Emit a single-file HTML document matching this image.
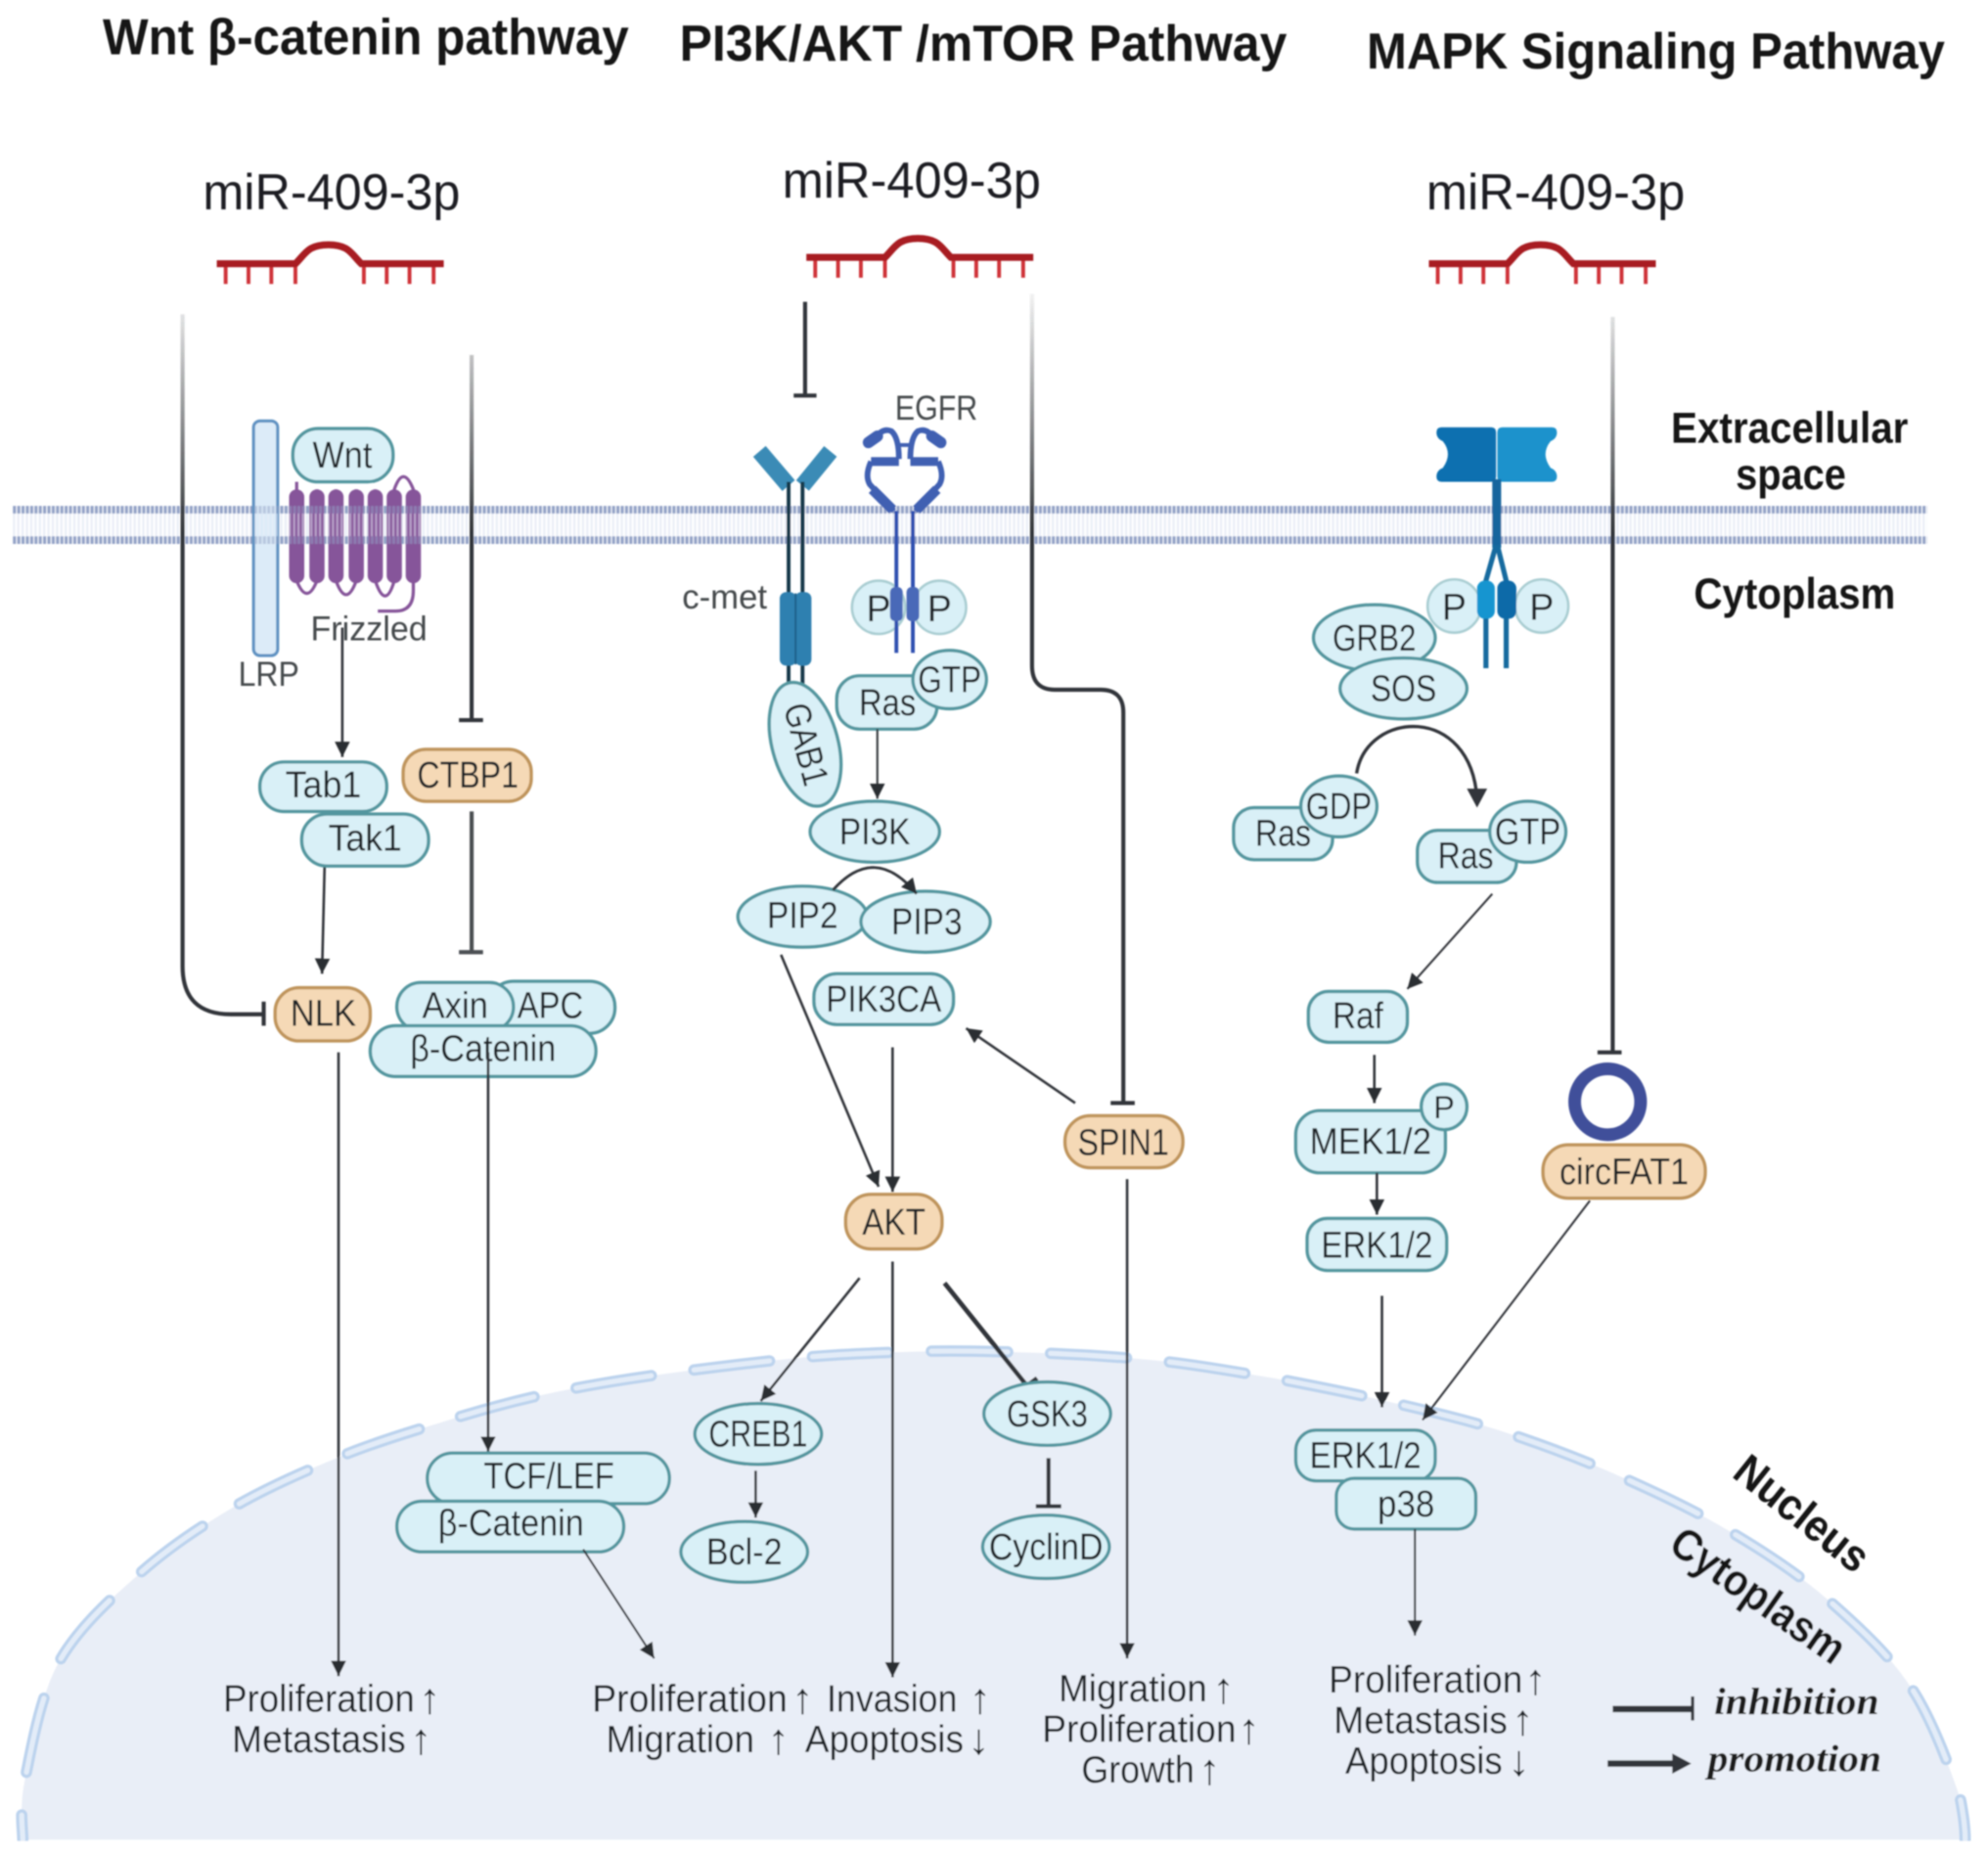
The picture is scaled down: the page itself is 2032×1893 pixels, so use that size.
<!DOCTYPE html>
<html><head><meta charset="utf-8"><style>
html,body{margin:0;padding:0;background:#fff}
svg{display:block}
text{font-family:"Liberation Sans",sans-serif;fill:#1f2428;font-size:29px}
.c{text-anchor:middle}
.b{font-weight:bold;fill:#141414}
.g{fill:#44484c;font-size:27px}
.w{font-size:30px}
.ar{font-size:34px;text-anchor:middle;font-weight:bold}
.p{fill:#d9f0f7;stroke:#52969f;stroke-width:2.6}
.o{fill:#f5d9b6;stroke:#bf945c;stroke-width:2.6}
.l{fill:none;stroke:#33363a;stroke-width:2}
.t{fill:none;stroke:#33363a;stroke-width:3.2}
.r{fill:none;stroke:#a81c20;stroke-width:5.5}
.rt{fill:none;stroke:#cf3339;stroke-width:3}
.f{fill:#86559a}
</style></head><body>
<svg width="2032" height="1893" viewBox="0 0 1568 1460.7" xmlns="http://www.w3.org/2000/svg">
<defs>
<filter id="bl" x="-2%" y="-2%" width="104%" height="104%"><feGaussianBlur stdDeviation="0.7"/></filter>
<marker id="a" markerUnits="userSpaceOnUse" markerWidth="14" markerHeight="14" refX="12" refY="6" orient="auto"><path d="M0,0L12,6L0,12Z" fill="#2c2f33"/></marker>
<pattern id="mem" width="3.4" height="30" patternUnits="userSpaceOnUse" y="399">
<rect x="0" y="5" width="1.7" height="19" fill="#eaeef7"/>
<rect x="0" y="0" width="2.4" height="6" fill="#93a2c6"/>
<rect x="0" y="24" width="2.4" height="6" fill="#93a2c6"/>
</pattern>
<linearGradient id="fade1" gradientUnits="userSpaceOnUse" x1="0" y1="235" x2="0" y2="420"><stop offset="0" stop-color="#33363a" stop-opacity="0.08"/><stop offset="1" stop-color="#33363a"/></linearGradient>
</defs>
<rect width="1568" height="1461" fill="#fff"/>
<g filter="url(#bl)">

<!-- nucleus -->
<path id="nuc" d="M18,1451 C18,1443 15,1425 20,1402 C25,1378 32,1336 47,1310 C62,1284 85,1263 108,1243 C130,1223 155,1206 182,1190 C209,1174 239,1161 268,1149 C297,1137 325,1129 354,1120 C383,1111 413,1103 443,1097 C473,1091 505,1086 536,1082 C567,1078 599,1074 630,1071 C661,1068 692,1067 723,1066 C754,1065 786,1066 817,1067 C848,1068 880,1070 911,1073 C942,1076 974,1082 1005,1087 C1036,1093 1067,1099 1097,1106 C1127,1113 1158,1120 1188,1130 C1218,1140 1250,1152 1279,1165 C1308,1178 1336,1191 1363,1207 C1390,1223 1418,1241 1442,1262 C1466,1283 1491,1306 1508,1332 C1525,1358 1539,1398 1546,1418 C1548,1428 1550,1440 1550,1451 Z" fill="#e9eef7"/>
<path d="M18,1451 C18,1443 15,1425 20,1402 C25,1378 32,1336 47,1310 C62,1284 85,1263 108,1243 C130,1223 155,1206 182,1190 C209,1174 239,1161 268,1149 C297,1137 325,1129 354,1120 C383,1111 413,1103 443,1097 C473,1091 505,1086 536,1082 C567,1078 599,1074 630,1071 C661,1068 692,1067 723,1066 C754,1065 786,1066 817,1067 C848,1068 880,1070 911,1073 C942,1076 974,1082 1005,1087 C1036,1093 1067,1099 1097,1106 C1127,1113 1158,1120 1188,1130 C1218,1140 1250,1152 1279,1165 C1308,1178 1336,1191 1363,1207 C1390,1223 1418,1241 1442,1262 C1466,1283 1491,1306 1508,1332 C1525,1358 1539,1398 1546,1418 C1548,1428 1550,1440 1550,1451" fill="none" stroke="#bcd3ee" stroke-width="9" stroke-linecap="round" stroke-dasharray="60 34" stroke-dashoffset="40.5"/>
<path d="M18,1451 C18,1443 15,1425 20,1402 C25,1378 32,1336 47,1310 C62,1284 85,1263 108,1243 C130,1223 155,1206 182,1190 C209,1174 239,1161 268,1149 C297,1137 325,1129 354,1120 C383,1111 413,1103 443,1097 C473,1091 505,1086 536,1082 C567,1078 599,1074 630,1071 C661,1068 692,1067 723,1066 C754,1065 786,1066 817,1067 C848,1068 880,1070 911,1073 C942,1076 974,1082 1005,1087 C1036,1093 1067,1099 1097,1106 C1127,1113 1158,1120 1188,1130 C1218,1140 1250,1152 1279,1165 C1308,1178 1336,1191 1363,1207 C1390,1223 1418,1241 1442,1262 C1466,1283 1491,1306 1508,1332 C1525,1358 1539,1398 1546,1418 C1548,1428 1550,1440 1550,1451" fill="none" stroke="#e3ecf8" stroke-width="4" stroke-linecap="round" stroke-dasharray="60 34" stroke-dashoffset="40.5"/>
<rect x="0" y="1452" width="1568" height="10" fill="#fff"/>

<!-- membrane -->
<rect x="10" y="399" width="1510" height="30" fill="url(#mem)"/>

<!-- titles -->
<text class="b" x="81" y="43" style="font-size:40px" textLength="415" lengthAdjust="spacingAndGlyphs">Wnt β-catenin pathway</text>
<text class="b" x="536" y="48" style="font-size:40px" textLength="479" lengthAdjust="spacingAndGlyphs">PI3K/AKT /mTOR Pathway</text>
<text class="b" x="1078" y="54" style="font-size:40px" textLength="456" lengthAdjust="spacingAndGlyphs">MAPK Signaling Pathway</text>

<text x="160" y="165" style="font-size:40px;fill:#1a1d20" textLength="203" lengthAdjust="spacingAndGlyphs">miR-409-3p</text>
<text x="617" y="156" style="font-size:40px;fill:#1a1d20" textLength="204" lengthAdjust="spacingAndGlyphs">miR-409-3p</text>
<text x="1125" y="165" style="font-size:40px;fill:#1a1d20" textLength="204" lengthAdjust="spacingAndGlyphs">miR-409-3p</text>

<!-- miRNAs -->
<g>
<path class="rt" d="M178,208V224M196,208V224M214,208V224M233,208V224M287,208V224M305,208V224M323,208V224M342,208V224"/>
<path class="r" d="M171,208H233C241,200 243,193 259,193C275,193 277,200 285,208H350"/>
</g>
<g transform="translate(465,-5)">
<path class="rt" d="M178,208V224M196,208V224M214,208V224M233,208V224M287,208V224M305,208V224M323,208V224M342,208V224"/>
<path class="r" d="M171,208H233C241,200 243,193 259,193C275,193 277,200 285,208H350"/>
</g>
<g transform="translate(956,0)">
<path class="rt" d="M178,208V224M196,208V224M214,208V224M233,208V224M287,208V224M305,208V224M323,208V224M342,208V224"/>
<path class="r" d="M171,208H233C241,200 243,193 259,193C275,193 277,200 285,208H350"/>
</g>

<!-- inhibition long lines -->
<path d="M144,248V762Q144,800 182,800H208" fill="none" stroke="url(#fade1)" stroke-width="3.2"/>
<path class="t" d="M208,790V809"/>
<path d="M372,280V568" fill="none" stroke="url(#fade1)" stroke-width="3.2"/>
<path class="t" d="M362,568H381"/>
<path class="t" d="M372,640V751M362,751H381" style="stroke:#4c4f53"/>
<path class="t" d="M635,238V312M626,312H644"/>
<path d="M814,232V525Q814,544 832,544H868Q886,544 886,562V870" fill="none" stroke="url(#fade1)" stroke-width="3.2"/>
<path class="t" d="M876,870H895"/>
<path d="M1272,250V830" fill="none" stroke="url(#fade1)" stroke-width="3.2"/>
<path class="t" d="M1260,830H1279"/>

<!-- LRP / Frizzled -->
<rect x="200" y="332" width="19" height="185" rx="5" fill="#dcebf8" stroke="#5e92c2" stroke-width="2.4"/>
<g>
<path d="M234,380V458Q242,478 250,458V386M265,386V458Q273,480 281,458V386M296,386V458Q304,482 311,458V386Q318,366 326,386V458V466Q326,482 312,482H298" fill="none" stroke="#86559a" stroke-width="2.5"/>
<rect class="f" x="228" y="386" width="12" height="74" rx="6"/>
<rect class="f" x="244" y="386" width="12" height="74" rx="6"/>
<rect class="f" x="259" y="386" width="12" height="74" rx="6"/>
<rect class="f" x="275" y="386" width="12" height="74" rx="6"/>
<rect class="f" x="290" y="386" width="12" height="74" rx="6"/>
<rect class="f" x="305" y="386" width="12" height="74" rx="6"/>
<rect class="f" x="320" y="386" width="12" height="74" rx="6"/>
</g>
<rect x="200" y="399" width="132" height="30" fill="url(#mem)" opacity="0.5"/>
<rect class="p" x="231" y="338" width="79" height="42" rx="20"/>
<text class="c" x="270" y="369" textLength="47" lengthAdjust="spacingAndGlyphs">Wnt</text>
<text class="g" x="245" y="505" textLength="92" lengthAdjust="spacingAndGlyphs">Frizzled</text>
<text class="g" x="188" y="541" textLength="48" lengthAdjust="spacingAndGlyphs">LRP</text>

<!-- Wnt column -->
<path class="l" d="M270,495V597" marker-end="url(#a)"/>
<rect class="p" x="205" y="601" width="100" height="39" rx="19"/>
<text class="c" x="255" y="629" textLength="60" lengthAdjust="spacingAndGlyphs">Tab1</text>
<rect class="p" x="238" y="642" width="100" height="41" rx="20"/>
<text class="c" x="288" y="671" textLength="58" lengthAdjust="spacingAndGlyphs">Tak1</text>
<rect class="o" x="318" y="591" width="101" height="41" rx="18"/>
<text class="c" x="369" y="621" textLength="80" lengthAdjust="spacingAndGlyphs">CTBP1</text>
<path class="l" d="M256,684L254,768" marker-end="url(#a)"/>
<rect class="o" x="217" y="779" width="75" height="42" rx="19"/>
<text class="c" x="255" y="809" textLength="52" lengthAdjust="spacingAndGlyphs">NLK</text>
<path class="l" d="M267,830V1322" marker-end="url(#a)"/>
<rect class="p" x="385" y="774" width="100" height="41" rx="20"/>
<text class="c" x="434" y="803" textLength="52" lengthAdjust="spacingAndGlyphs">APC</text>
<rect class="p" x="313" y="775" width="92" height="38" rx="19"/>
<text class="c" x="359" y="803" textLength="52" lengthAdjust="spacingAndGlyphs">Axin</text>
<rect class="p" x="292" y="809" width="178" height="40" rx="20"/>
<text class="c" x="381" y="837" textLength="115" lengthAdjust="spacingAndGlyphs">β-Catenin</text>
<path class="l" d="M385,830V1145" marker-end="url(#a)"/>
<rect class="p" x="337" y="1146" width="191" height="40" rx="20"/>
<text class="c" x="433" y="1174" textLength="103" lengthAdjust="spacingAndGlyphs">TCF/LEF</text>
<rect class="p" x="313" y="1184" width="179" height="40" rx="20"/>
<text class="c" x="403" y="1211" textLength="115" lengthAdjust="spacingAndGlyphs">β-Catenin</text>
<path class="l" d="M460,1222L516,1308" marker-end="url(#a)" style="stroke-width:1.6"/>

<!-- c-met -->
<path d="M599,356L622,383M655,356L633,383" fill="none" stroke="#3a8bb6" stroke-width="13"/>
<path d="M622,380V545M633,380V545" fill="none" stroke="#14394a" stroke-width="3"/>
<rect x="615" y="467" width="13" height="58" rx="5" fill="#2f80b0"/>
<rect x="627" y="467" width="13" height="58" rx="5" fill="#2f80b0"/>
<path d="M627.5,468V524" stroke="#1c5f88" stroke-width="1.5"/>
<text class="g" x="538" y="480" textLength="67" lengthAdjust="spacingAndGlyphs">c-met</text>
<ellipse class="p" cx="635" cy="587" rx="26" ry="50" transform="rotate(-15 635 587)"/>
<text class="c" transform="translate(636,587) rotate(75)" x="0" y="10" textLength="66" lengthAdjust="spacingAndGlyphs">GAB1</text>

<!-- EGFR -->
<text class="g" x="706" y="331" textLength="65" lengthAdjust="spacingAndGlyphs">EGFR</text>
<circle cx="693" cy="479" r="21" fill="#d9f0f7" stroke="#a9cdd2" stroke-width="2"/>
<circle cx="741" cy="479" r="21" fill="#d9f0f7" stroke="#a9cdd2" stroke-width="2"/>
<text class="c" x="693" y="490">P</text>
<text class="c" x="741" y="490">P</text>
<g fill="none" stroke="#3f60b2">
<path d="M707,403V515M720,403V515" stroke-width="3" stroke="#2f50b0"/>
<path d="M690,346Q696,337 703,340Q709,345 709,362M737,346Q731,337 724,340Q718,345 718,362" stroke-width="4.5"/>
<path d="M709,351H718" stroke-width="3"/>
<path d="M685,349L692,344M742,349L735,344" stroke-width="9" stroke-linecap="round"/>
<path d="M687,364H709M740,364H718" stroke-width="7"/>
<path d="M687,364Q682,375 686,382L705,403M740,364Q745,375 741,382L722,403" stroke-width="4.5"/>
<path d="M688,386L704,402M739,386L723,402" stroke-width="8"/>
</g>
<rect x="702" y="463" width="10" height="27" rx="4" fill="#4a69b8"/>
<rect x="715" y="463" width="10" height="27" rx="4" fill="#4a69b8"/>

<!-- Ras/PI3K -->
<rect class="p" x="660" y="533" width="79" height="42" rx="18"/>
<text class="c" x="700" y="564" textLength="45" lengthAdjust="spacingAndGlyphs">Ras</text>
<ellipse class="p" cx="749" cy="536" rx="29" ry="23"/>
<text class="c" x="749" y="546" textLength="50" lengthAdjust="spacingAndGlyphs">GTP</text>
<path class="l" d="M692,575V630" marker-end="url(#a)" style="stroke-width:1.6"/>
<ellipse class="p" cx="690" cy="656" rx="51" ry="24"/>
<text class="c" x="690" y="666" textLength="56" lengthAdjust="spacingAndGlyphs">PI3K</text>
<ellipse class="p" cx="633" cy="723" rx="51" ry="24"/>
<text class="c" x="633" y="732" textLength="56" lengthAdjust="spacingAndGlyphs">PIP2</text>
<ellipse class="p" cx="730" cy="727" rx="51" ry="24"/>
<text class="c" x="731" y="737" textLength="56" lengthAdjust="spacingAndGlyphs">PIP3</text>
<path class="l" d="M657,702Q690,665 723,705" marker-end="url(#a)" style="stroke-width:2.2"/>
<rect class="p" x="642" y="768" width="110" height="40" rx="18"/>
<text class="c" x="697" y="798" textLength="91" lengthAdjust="spacingAndGlyphs">PIK3CA</text>
<path class="l" d="M616,753L693,936" marker-end="url(#a)"/>
<path class="l" d="M704,826V940" marker-end="url(#a)"/>
<rect class="o" x="667" y="942" width="76" height="43" rx="20"/>
<text class="c" x="705" y="974" textLength="50" lengthAdjust="spacingAndGlyphs">AKT</text>
<rect class="o" x="840" y="880" width="93" height="41" rx="20"/>
<text class="c" x="886" y="911" textLength="72" lengthAdjust="spacingAndGlyphs">SPIN1</text>
<path class="l" d="M848,870L762,811" marker-end="url(#a)"/>
<path class="l" d="M889,930V1308" marker-end="url(#a)"/>
<path class="l" d="M678,1008L600,1105" marker-end="url(#a)"/>
<path class="l" d="M704,995V1323" marker-end="url(#a)"/>
<path class="t" d="M745,1012L810,1093M801,1100L818,1087" style="stroke-width:3.6"/>
<ellipse class="p" cx="598" cy="1131" rx="50" ry="24"/>
<text class="c" x="598" y="1141" textLength="78" lengthAdjust="spacingAndGlyphs">CREB1</text>
<path class="l" d="M596,1160V1197" marker-end="url(#a)"/>
<ellipse class="p" cx="587" cy="1224" rx="50" ry="24"/>
<text class="c" x="587" y="1234" textLength="60" lengthAdjust="spacingAndGlyphs">Bcl-2</text>
<ellipse class="p" cx="826" cy="1115" rx="50" ry="25"/>
<text class="c" x="826" y="1125" textLength="64" lengthAdjust="spacingAndGlyphs">GSK3</text>
<path class="t" d="M827,1150V1188M817,1188H837"/>
<ellipse class="p" cx="825" cy="1220" rx="50" ry="25"/>
<text class="c" x="825" y="1230" textLength="90" lengthAdjust="spacingAndGlyphs">CyclinD</text>

<!-- MAPK receptor -->
<circle cx="1147" cy="478" r="21" fill="#d9f0f7" stroke="#a9cdd2" stroke-width="2"/>
<circle cx="1216" cy="478" r="21" fill="#d9f0f7" stroke="#a9cdd2" stroke-width="2"/>
<text class="c" x="1147" y="489">P</text>
<text class="c" x="1216" y="489">P</text>
<path d="M1137,337H1176Q1180,337 1180,341V376Q1180,380 1176,380H1137Q1133,380 1133,376Q1133,371 1138,369Q1146,358 1138,348Q1133,346 1133,341Q1133,337 1137,337Z" fill="#0f6fb0"/>
<path d="M1224,337H1185Q1181,337 1181,341V376Q1181,380 1185,380H1224Q1228,380 1228,376Q1228,371 1223,369Q1215,358 1223,348Q1228,346 1228,341Q1228,337 1224,337Z" fill="#1f92cc"/>
<path d="M1180.5,378V432" stroke="#17659d" stroke-width="7" fill="none"/>
<path d="M1180,430L1172,458V527M1181,430L1188,458V527" stroke="#146a9f" stroke-width="4" fill="none"/>
<rect x="1165" y="458" width="14" height="30" rx="6" fill="#1795d0"/>
<rect x="1181" y="458" width="15" height="30" rx="6" fill="#0f6aa8"/>

<ellipse class="p" cx="1084" cy="503" rx="48" ry="26"/>
<text class="c" x="1084" y="513" textLength="66" lengthAdjust="spacingAndGlyphs">GRB2</text>
<ellipse class="p" cx="1107" cy="543" rx="50" ry="24"/>
<text class="c" x="1107" y="553" textLength="52" lengthAdjust="spacingAndGlyphs">SOS</text>
<path d="M1070,610C1078,560 1160,555 1165,630" fill="none" stroke="#33363a" stroke-width="2.6"/>
<path d="M1157,622L1173,622L1165,637Z" fill="#33363a"/>
<rect class="p" x="973" y="637" width="78" height="41" rx="16"/>
<text class="c" x="1012" y="667" textLength="44" lengthAdjust="spacingAndGlyphs">Ras</text>
<ellipse class="p" cx="1056" cy="636" rx="30" ry="24"/>
<text class="c" x="1056" y="646" textLength="52" lengthAdjust="spacingAndGlyphs">GDP</text>
<rect class="p" x="1118" y="655" width="78" height="41" rx="16"/>
<text class="c" x="1156" y="685" textLength="44" lengthAdjust="spacingAndGlyphs">Ras</text>
<ellipse class="p" cx="1205" cy="656" rx="30" ry="24"/>
<text class="c" x="1205" y="666" textLength="52" lengthAdjust="spacingAndGlyphs">GTP</text>
<path class="l" d="M1177,705L1110,780" marker-end="url(#a)" style="stroke-width:1.6"/>
<rect class="p" x="1032" y="782" width="78" height="40" rx="16"/>
<text class="c" x="1071" y="811" textLength="40" lengthAdjust="spacingAndGlyphs">Raf</text>
<path class="l" d="M1084,832V870" marker-end="url(#a)"/>
<rect class="p" x="1022" y="876" width="118" height="49" rx="19"/>
<text class="c" x="1081" y="910" textLength="96" lengthAdjust="spacingAndGlyphs">MEK1/2</text>
<circle class="p" cx="1139" cy="873" r="18"/>
<text class="c" x="1139" y="882" style="font-size:25px">P</text>
<path class="l" d="M1086,925V958" marker-end="url(#a)"/>
<rect class="p" x="1031" y="961" width="110" height="41" rx="16"/>
<text class="c" x="1086" y="992" textLength="88" lengthAdjust="spacingAndGlyphs">ERK1/2</text>
<path class="l" d="M1090,1022V1110" marker-end="url(#a)"/>
<rect class="p" x="1022" y="1128" width="110" height="40" rx="16"/>
<text class="c" x="1077" y="1158" textLength="88" lengthAdjust="spacingAndGlyphs">ERK1/2</text>
<rect class="p" x="1054" y="1166" width="110" height="40" rx="14"/>
<text class="c" x="1109" y="1196" textLength="45" lengthAdjust="spacingAndGlyphs">p38</text>
<path class="l" d="M1116,1206V1290" marker-end="url(#a)" style="stroke-width:1.6"/>

<circle cx="1268" cy="869" r="26" fill="none" stroke="#3f4f9a" stroke-width="10"/>
<rect class="o" x="1217" y="903" width="128" height="42" rx="20"/>
<text class="c" x="1281" y="934" textLength="102" lengthAdjust="spacingAndGlyphs">circFAT1</text>
<path class="l" d="M1254,947L1122,1120" marker-end="url(#a)" style="stroke-width:1.6"/>

<!-- region labels -->
<text class="b" x="1318" y="349" style="font-size:34px" textLength="187" lengthAdjust="spacingAndGlyphs">Extracellular</text>
<text class="b" x="1369" y="386" style="font-size:34px" textLength="87" lengthAdjust="spacingAndGlyphs">space</text>
<text class="b" x="1336" y="480" style="font-size:34px" textLength="159" lengthAdjust="spacingAndGlyphs">Cytoplasm</text>
<text class="b c" transform="translate(1414,1203) rotate(38.5)" style="font-size:35px" textLength="125" lengthAdjust="spacingAndGlyphs">Nucleus</text>
<text class="b c" transform="translate(1380,1268) rotate(35)" style="font-size:35px" textLength="160" lengthAdjust="spacingAndGlyphs">Cytoplasm</text>

<!-- outcomes -->
<text class="w" x="176" y="1350" textLength="151" lengthAdjust="spacingAndGlyphs">Proliferation</text><text class="ar" x="339" y="1351">↑</text>
<text class="w" x="183" y="1382" textLength="137" lengthAdjust="spacingAndGlyphs">Metastasis</text><text class="ar" x="332" y="1383">↑</text>
<text class="w" x="467" y="1350" textLength="154" lengthAdjust="spacingAndGlyphs">Proliferation</text><text class="ar" x="633" y="1351">↑</text>
<text class="w" x="478" y="1382" textLength="117" lengthAdjust="spacingAndGlyphs">Migration</text><text class="ar" x="614" y="1383">↑</text>
<text class="w" x="652" y="1350" textLength="103" lengthAdjust="spacingAndGlyphs">Invasion</text><text class="ar" x="773" y="1351">↑</text>
<text class="w" x="635" y="1382" textLength="125" lengthAdjust="spacingAndGlyphs">Apoptosis</text><text class="ar" x="772" y="1383">↓</text>
<text class="w" x="835" y="1342" textLength="117" lengthAdjust="spacingAndGlyphs">Migration</text><text class="ar" x="965" y="1343">↑</text>
<text class="w" x="822" y="1374" textLength="153" lengthAdjust="spacingAndGlyphs">Proliferation</text><text class="ar" x="985" y="1375">↑</text>
<text class="w" x="853" y="1406" textLength="89" lengthAdjust="spacingAndGlyphs">Growth</text><text class="ar" x="954" y="1407">↑</text>
<text class="w" x="1048" y="1335" textLength="153" lengthAdjust="spacingAndGlyphs">Proliferation</text><text class="ar" x="1211" y="1336">↑</text>
<text class="w" x="1052" y="1367" textLength="137" lengthAdjust="spacingAndGlyphs">Metastasis</text><text class="ar" x="1201" y="1368">↑</text>
<text class="w" x="1061" y="1399" textLength="124" lengthAdjust="spacingAndGlyphs">Apoptosis</text><text class="ar" x="1198" y="1400">↓</text>

<!-- legend -->
<path d="M1272,1348H1335" stroke="#33363a" stroke-width="5" fill="none"/>
<path d="M1335,1338V1357" stroke="#33363a" stroke-width="2.5" fill="none"/>
<text x="1352" y="1352" style="font-family:'Liberation Serif',serif;font-style:italic;font-weight:bold;font-size:30px;fill:#1c1c1c" textLength="130" lengthAdjust="spacingAndGlyphs">inhibition</text>
<path d="M1268,1391H1322" stroke="#33363a" stroke-width="5" fill="none"/>
<path d="M1319,1383L1334,1391L1319,1399Z" fill="#33363a"/>
<text x="1347" y="1397" style="font-family:'Liberation Serif',serif;font-style:italic;font-weight:bold;font-size:30px;fill:#1c1c1c" textLength="137" lengthAdjust="spacingAndGlyphs">promotion</text>
</g>
</svg>
</body></html>
